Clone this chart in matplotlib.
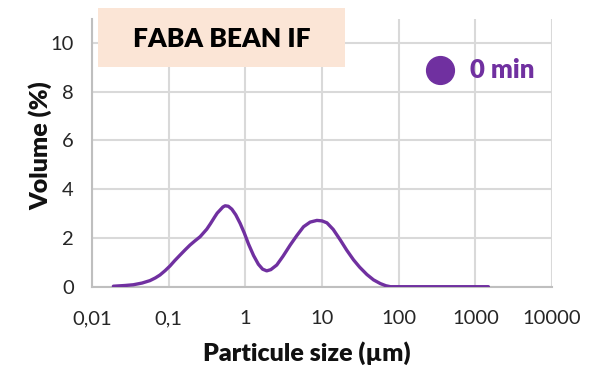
import matplotlib
matplotlib.use("Agg")
import matplotlib.pyplot as plt
from matplotlib.patches import Rectangle
from matplotlib.lines import Line2D

plt.rcParams['font.family'] = ['Lato', 'DejaVu Sans']

# Data
size_um = [0.019, 0.027, 0.0346, 0.045, 0.057, 0.067, 0.077, 0.09, 0.104, 0.12,
           0.141, 0.165, 0.19, 0.22, 0.257, 0.314, 0.35, 0.40, 0.43, 0.47,
           0.51, 0.545, 0.60, 0.667, 0.75, 0.855, 0.97, 1.10, 1.28, 1.48,
           1.68, 1.90, 2.15, 2.57, 3.1, 3.85, 4.7, 5.74, 7.0, 8.57,
           10.0, 11.6, 14.0, 17.3, 21.0, 25.8, 31.0, 38.5, 47.0, 57.5,
           68.0, 78.0, 150.0, 500.0, 1480.0]
volume_pct = [0.02, 0.05, 0.08, 0.15, 0.25, 0.36, 0.48, 0.66, 0.85, 1.07,
              1.30, 1.52, 1.71, 1.88, 2.05, 2.36, 2.58, 2.87, 3.02, 3.15,
              3.27, 3.32, 3.30, 3.18, 2.95, 2.60, 2.20, 1.75, 1.28, 0.92,
              0.72, 0.65, 0.70, 0.89, 1.25, 1.71, 2.10, 2.46, 2.65, 2.72,
              2.70, 2.62, 2.35, 1.92, 1.50, 1.10, 0.80, 0.50, 0.28, 0.13,
              0.04, 0.0, 0.0, 0.0, 0.0]
xticks = [0.01, 0.1, 1, 10, 100, 1000, 10000]
xtick_labels = ["0,01", "0,1", "1", "10", "100", "1000", "10000"]
yticks = [0, 2, 4, 6, 8, 10]
series_label = "0 min"
title = "FABA BEAN IF"

purple = "#7030A0"
grid_c = "#D9D9D9"

fig = plt.figure(figsize=(5.9, 3.68), dpi=100)
ax = fig.add_axes([92/590, 1-286.7/368, (552-92)/590, (286.7-18.6)/368])

ax.plot(size_um, volume_pct, color=purple, lw=2.4, solid_capstyle='round',
        solid_joinstyle='round', zorder=3)

ax.set_xscale('log')
ax.set_xlim(0.01, 10000)
ax.set_ylim(0, 11)
ax.set_xticks(xticks)
ax.set_xticklabels(xtick_labels)
ax.xaxis.set_minor_locator(matplotlib.ticker.NullLocator())
ax.set_yticks(yticks)
ax.tick_params(length=0, labelsize=14.5, labelcolor='#262626')
ax.tick_params(axis='x', pad=17)
ax.tick_params(axis='y', pad=13)
ax.grid(True, color=grid_c, lw=1.5)
ax.set_axisbelow(True)
for s in ['top', 'right']:
    ax.spines[s].set_visible(False)
for s in ['left', 'bottom']:
    ax.spines[s].set_color('#BFBFBF')
    ax.spines[s].set_linewidth(1.5)

fig.text(307/590, 1-353/368, "Particule size (µm)", ha='center', va='center',
         fontsize=18, fontweight='heavy', color='#111111')
fig.text(40/590, 1-146/368, "Volume (%)", ha='center', va='center', rotation=90,
         fontsize=18, fontweight='heavy', color='#111111')

# Title box
fig.patches.append(Rectangle((98/590, 1-67/368), (345-98)/590, (67-8)/368,
                             transform=fig.transFigure, facecolor='#FBE5D6',
                             edgecolor='none', zorder=5))
fig.text(222/590, 1-39/368, title, ha='center', va='center', fontsize=19,
         fontweight='heavy', color='black', zorder=6)

# Legend
fig.lines.append(Line2D([440/590], [1-70/368], marker='o', ms=20,
                        color=purple, transform=fig.transFigure))
fig.text(470/590, 1-70/368, series_label, ha='left', va='center', fontsize=18.5,
         fontweight='heavy', color=purple)

fig.savefig("out.png", dpi=100)
